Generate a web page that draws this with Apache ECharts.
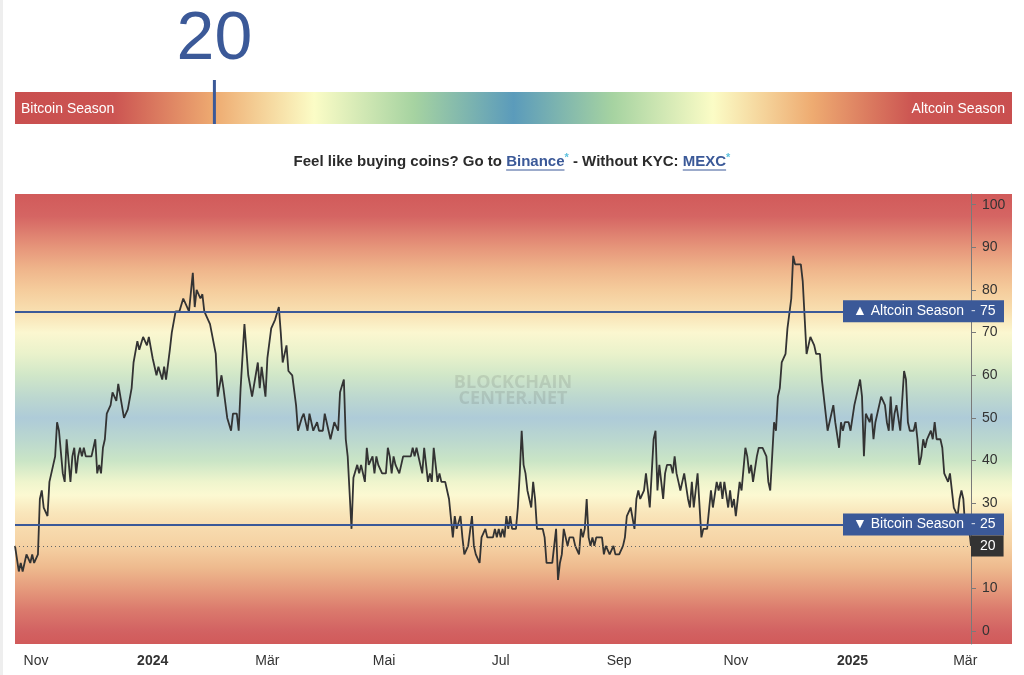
<!DOCTYPE html>
<html>
<head>
<meta charset="utf-8">
<script src="https://cdn.jsdelivr.net/npm/echarts@6/dist/echarts.min.js"></script>
<style>
html,body{margin:0;padding:0;background:#fff;}
#c{width:1024px;height:675px;}
</style>
</head>
<body>
<div id="c"></div>
<script>
// ---------------- DATA ----------------
const startDate = '2023-10-21';
const dayOffsets = [
0,2,3,4,6,7,8,9,10,11,12,13,14,15,16,17,18,19,20,21,22,23,24,25,26,27,28,29,30,31,32,33,34,35,36,37,40,42,43,44,45,46,47,48,49,50,
51,53,54,57,59,61,62,64,65,67,69,70,72,74,75,77,78,79,81,82,84,86,88,91,93,94,95,97,98,99,102,103,105,106,108,109,111,113,114,116,
117,118,120,122,124,125,127,128,129,131,132,134,136,138,139,140,142,143,145,147,148,150,151,153,154,156,158,159,161,162,164,165,167,169,170,172,173,
174,176,177,179,180,181,182,183,184,185,186,187,188,189,190,191,192,194,195,196,197,198,199,200,201,202,203,207,208,209,
210,211,212,213,214,215,216,217,218,219,220,221,222,223,225,226,227,228,229,230,231,232,233,234,235,236,237,238,239,240,
241,242,243,244,245,246,247,250,251,252,253,254,255,256,257,258,259,260,262,263,264,265,266,267,268,269,270,271,272,273,
276,277,278,281,283,284,285,286,287,288,289,290,291,292,293,294,295,296,297,298,299,300,301,302,303,304,307,308,309,310,
311,313,314,316,318,319,320,321,322,323,324,325,326,327,328,329,330,331,332,334,335,336,337,338,339,340,341,343,344,345,
346,347,348,349,350,351,352,353,
354,355,357,359,360,362,364,365,366,367,368,369,370,371,373,374,375,376,377,379,380,382,383,384,385,386,388,389,391,393,
394,395,397,398,399,400,401,402,403,404,405,406,407,408,411,412,414,415,416,418,419,421,422,425,426,428,429,430,431,432,
433,434,436,437,438,439,440,441,442,443,444,445,446,447,448,449,450,451,453,455,456,457,458,459,460,461,462,463,464,465,
466,467,468,470,471,472,473,474,475,476,477,478,479,480,481,482,484,485,486,488,489,490,491,492,493,494,495,496,497,499,500
];
const indexValues = [
20,14,16,14,18,18,16,18,16,16,18,31,33,29,29,27,35,35,39,41,49,47,47,37,35,45,45,35,41,43,37,41,43,41,43,41,41,45,37,39,37,43,45,51,51,53,
56,54,58,50,52,57,63,68,66,69,67,69,64,60,62,59,62,59,66,70,75,75,78,75,84,76,80,78,79,75,72,72,65,55,60,57,50,47,51,51,
47,57,72,60,55,55,63,57,62,55,64,71,73,76,70,63,67,61,60,53,47,50,51,47,51,47,49,47,47,51,47,45,49,47,56,59,45,
41,24,36,39,37,39,39,35,43,39,39,41,37,41,39,39,37,37,43,41,37,41,39,39,37,37,41,41,43,41,
43,43,39,37,43,39,35,37,35,43,43,35,37,35,35,33,31,31,22,27,24,24,27,22,18,18,20,20,27,20,
18,18,16,22,22,24,22,22,24,22,24,22,24,22,27,24,27,24,24,29,37,47,39,37,33,33,29,35,31,24,
24,22,16,16,24,12,16,18,24,24,20,22,22,22,20,20,18,24,22,24,31,22,20,22,20,22,22,18,20,20,
18,20,18,18,20,22,27,27,29,29,24,31,33,31,31,33,37,33,29,45,47,33,39,35,31,37,39,39,37,41,
37,35,33,35,37,37,31,29,
35,29,37,22,24,24,33,29,29,35,33,35,31,35,29,33,29,31,27,35,33,43,41,37,39,35,41,43,43,41,
35,33,49,47,55,57,63,63,65,71,71,78,88,86,86,82,65,65,69,67,65,65,59,47,47,53,49,49,43,49,
47,49,49,47,47,53,55,55,59,55,41,51,51,49,51,45,49,49,55,53,49,47,55,47,51,53,53,47,47,61,
59,49,47,47,49,45,39,41,45,43,45,45,47,45,49,45,45,43,37,35,37,33,29,29,27,31,33,31,24,24,20
];
const altcoinThreshold = 75;
const bitcoinThreshold = 25;
const altcoinLabel = 'Altcoin Season';
const bitcoinLabel = 'Bitcoin Season';
const tickDates = ['2023-11-01','2024-01-01','2024-03-01','2024-05-01','2024-07-01','2024-09-01','2024-11-01','2025-01-01','2025-03-01'];
const tickLabels = ['Nov','2024','Mär','Mai','Jul','Sep','Nov','2025','Mär'];
const yTicks = [0,10,20,30,40,50,60,70,80,90,100];
const promoParts = [
  {text:'Feel like buying coins? Go to ', kind:'plain'},
  {text:'Binance', kind:'link'},
  {text:'*', kind:'star'},
  {text:' - Without KYC: ', kind:'plain'},
  {text:'MEXC', kind:'link'},
  {text:'*', kind:'star'}
];

// ---------------- BUILD ----------------
const DAY = 86400000;
function parseDate(s){ const p = s.split('-').map(Number); return Date.UTC(p[0], p[1]-1, p[2]); }
const t0 = parseDate(startDate);
const seriesData = dayOffsets.map((d,i)=>[t0 + d*DAY, indexValues[i]]);
const xMin = t0, xMax = t0 + dayOffsets[dayOffsets.length-1]*DAY;
const current = indexValues[indexValues.length-1];
const tickTs = tickDates.map(parseDate);

const FONT = '"Liberation Sans", Arial, sans-serif';
const BLUE = '#3b5998';

const chart = echarts.init(document.getElementById('c'));

// header layout
const barX = 15, barY = 92, barW = 997, barH = 32;
const markerX = barX + barW * current / 100;

// promo text layout (measured)
const mctx = document.createElement('canvas').getContext('2d');
function tw(text, font){ mctx.font = font; return mctx.measureText(text).width; }
const mainFont = 'bold 15px "Liberation Sans"';
const starFont = 'bold 11px "Liberation Sans"';
let totalW = 0;
promoParts.forEach(p=>{ p.w = tw(p.text, p.kind==='star'?starFont:mainFont); totalW += p.w; });
let px = 512 - totalW/2;
const promoY = 162;
const promoEls = [];
promoParts.forEach(p=>{
  const color = p.kind==='plain' ? '#2b2b2b' : (p.kind==='link' ? BLUE : '#5bc0de');
  promoEls.push({type:'text', x:px, y: p.kind==='star' ? promoY-4 : promoY, z:5,
    style:{text:p.text, fill:color, font: p.kind==='star'?starFont:mainFont, textAlign:'left', textVerticalAlign:'middle'}});
  if (p.kind==='link') {
    promoEls.push({type:'line', z:5, shape:{x1:px, y1:promoY+8, x2:px+p.w, y2:promoY+8}, style:{stroke:BLUE, lineWidth:1}});
  }
  px += p.w;
});

const bgStops = [
  [0,'#d15a5a'],[0.05,'#d56563'],[0.118,'#e6957a'],[0.167,'#efb58b'],[0.213,'#f5cc9c'],[0.26,'#f8dfb0'],
  [0.308,'#fbf7d0'],[0.355,'#eaf2cb'],[0.402,'#d1e7c8'],[0.45,'#bdd8cf'],[0.498,'#aecbd8'],[0.545,'#bad7cf'],
  [0.593,'#cae5c6'],[0.64,'#eff5cd'],[0.669,'#fcf9d2'],[0.708,'#f9e6bb'],[0.736,'#f8ddb0'],[0.782,'#f5d1a3'],
  [0.83,'#eeba8e'],[0.878,'#e59a7c'],[0.924,'#db7a6d'],[0.971,'#d26262'],[1,'#d15a5a']
].map(s=>({offset:s[0], color:s[1]}));

const barStops = [
  [0,'#c94f4f'],[0.1,'#cc5552'],[0.2,'#eeab71'],[0.25,'#f5d49b'],[0.3,'#fbfcc6'],[0.4,'#a6d3a1'],[0.5,'#5b9bbb'],
  [0.6,'#a6d3a1'],[0.7,'#fbfcc6'],[0.75,'#f5d49b'],[0.8,'#eeab71'],[0.9,'#cc5552'],[1,'#c94f4f']
].map(s=>({offset:s[0], color:s[1]}));

const graphicEls = [
  {type:'rect', z:-5, shape:{x:0,y:0,width:3,height:675}, style:{fill:'#eeeeee'}},
  {type:'text', z:5, x:markerX, y:40, style:{text:String(current), fill:BLUE, font:'68px "Liberation Sans"', textAlign:'center', textVerticalAlign:'middle'}},
  {type:'rect', z:-5, shape:{x:barX,y:barY,width:barW,height:barH},
    style:{fill:new echarts.graphic.LinearGradient(0,0,1,0,barStops)}},
  {type:'line', z:5, shape:{x1:markerX,y1:80,x2:markerX,y2:barY+barH}, style:{stroke:BLUE, lineWidth:3}},
  {type:'text', z:5, x:21, y:barY+barH/2+1, style:{text:bitcoinLabel, fill:'#fff', font:'14px "Liberation Sans"', textAlign:'left', textVerticalAlign:'middle'}},
  {type:'text', z:5, x:1005, y:barY+barH/2+1, style:{text:altcoinLabel, fill:'#fff', font:'14px "Liberation Sans"', textAlign:'right', textVerticalAlign:'middle'}},
  {type:'rect', z:-5, shape:{x:15,y:194,width:997,height:450},
    style:{fill:new echarts.graphic.LinearGradient(0,0,0,1,bgStops)}},
  {type:'text', z:-1, x:513, y:383, style:{text:'BLOCKCHAIN', fill:'rgba(70,70,70,0.14)', font:'bold 18px "Open Sans"', textAlign:'center', textVerticalAlign:'middle'}},
  {type:'text', z:-1, x:513, y:399, style:{text:'CENTER.NET', fill:'rgba(70,70,70,0.14)', font:'bold 18px "Open Sans"', textAlign:'center', textVerticalAlign:'middle'}}
].concat(promoEls);

function thresholdLabel(arrow, name, val){
  return {
    show:true, position:'end', distance:[-128,0],
    formatter:`{t|${arrow} ${name}}{d|-}{v|${val}}`,
    backgroundColor:BLUE, padding:[4,8,4,10],
    rich:{
      t:{color:'#fff', fontSize:14, fontFamily:FONT, width:118},
      d:{color:'#c9d1e3', fontSize:14, fontFamily:FONT, width:9},
      v:{color:'#fff', fontSize:14, fontFamily:FONT, width:16}
    }
  };
}

function xLabel(val){
  let idx = 0, best = Infinity;
  tickTs.forEach((t,i)=>{ const d = Math.abs(t-val); if(d<best){best=d; idx=i;} });
  const lab = tickLabels[idx];
  return /^\d{4}$/.test(lab) ? '{y|'+lab+'}' : lab;
}

const option = {
  animation:false,
  backgroundColor:'#ffffff',
  grid:{left:15, right:53, top:194, bottom:31, containLabel:false},
  xAxis:{
    type:'value', min:xMin, max:xMax, scale:true,
    axisLine:{show:false}, axisTick:{show:false}, splitLine:{show:false},
    axisLabel:{
      customValues:tickTs, hideOverlap:false,
      color:'#333', fontSize:14, fontFamily:FONT, margin:10,
      formatter:xLabel,
      rich:{y:{fontWeight:'bold', fontSize:14, fontFamily:FONT, color:'#333'}}
    }
  },
  yAxis:{
    type:'value', position:'right', min:-3, max:102.5,
    splitLine:{show:false},
    axisLine:{show:true, lineStyle:{color:'#7a7a7a', width:1}},
    axisTick:{show:true, customValues:yTicks, length:5, lineStyle:{color:'#7a7a7a'}},
    axisLabel:{customValues:yTicks, color:'#333', fontSize:14, fontFamily:FONT, margin:11}
  },
  graphic:{elements:graphicEls},
  series:[
    {
      type:'line', data:seriesData, showSymbol:false, silent:true, z:1,
      lineStyle:{opacity:0}, emphasis:{disabled:true},
      markLine:{
        silent:true, symbol:['none','none'], animation:false, emphasis:{disabled:true},
        data:[
          {yAxis:altcoinThreshold, lineStyle:{color:BLUE, width:2, type:'solid'}, label:thresholdLabel('▲', altcoinLabel, altcoinThreshold)},
          {yAxis:bitcoinThreshold, lineStyle:{color:BLUE, width:2, type:'solid'}, label:thresholdLabel('▼', bitcoinLabel, bitcoinThreshold)},
          {yAxis:current, lineStyle:{color:'#666', width:1, type:[1,3]},
            label:{show:true, position:'end', distance:0, formatter:String(current), color:'#fff',
              backgroundColor:'#333', padding:[4,8,3,9], fontSize:14, fontFamily:FONT}}
        ]
      }
    },
    {
      type:'line', data:seriesData, showSymbol:false, z:3, silent:true,
      lineStyle:{color:'#333', width:1.8}, emphasis:{disabled:true}
    }
  ]
};
chart.setOption(option);
</script>
</body>
</html>
